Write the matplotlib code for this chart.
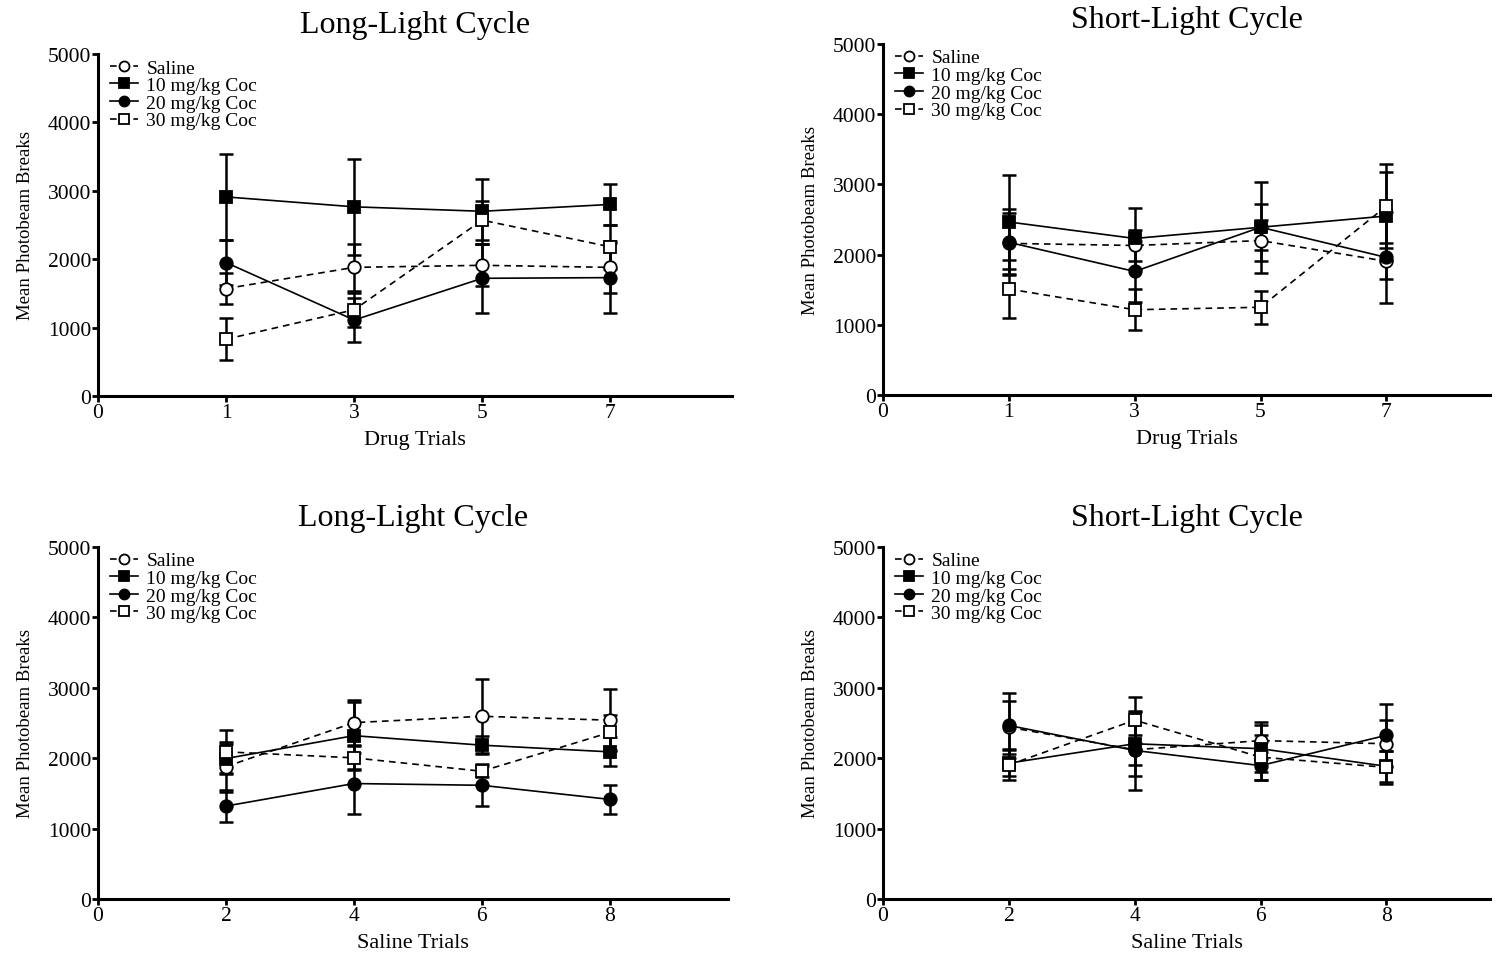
import matplotlib
matplotlib.use('Agg')
import matplotlib.pyplot as plt
import numpy as np

plt.rcParams['font.family'] = ['Liberation Serif', 'DejaVu Serif']

groups = ['Saline', '10 mg/kg Coc', '20 mg/kg Coc', '30 mg/kg Coc']
drug_ticks = ['0', '1', '3', '5', '7']
saline_ticks = ['0', '2', '4', '6', '8']

# rows: saline, 10, 20, 30 mg/kg
long_drug_mean = [[1570, 1880, 1910, 1880],
                  [2910, 2765, 2700, 2800],
                  [1950, 1110, 1720, 1730],
                  [830, 1260, 2570, 2180]]
long_drug_err = [[230, 345, 305, 380],
                 [625, 700, 475, 300],
                 [330, 320, 505, 510],
                 [305, 250, 285, 320]]

short_drug_mean = [[2160, 2130, 2200, 1905],
                   [2465, 2230, 2390, 2550],
                   [2175, 1760, 2390, 1960],
                   [1510, 1215, 1250, 2690]]
short_drug_err = [[435, 225, 295, 255],
                  [665, 440, 650, 620],
                  [470, 430, 325, 645],
                  [415, 290, 235, 595]]

long_sal_mean = [[1880, 2505, 2595, 2540],
                 [1995, 2320, 2185, 2090],
                 [1320, 1640, 1615, 1415],
                 [2090, 2005, 1815, 2365]]
long_sal_err = [[355, 320, 525, 440],
                [200, 485, 130, 205],
                [225, 435, 300, 210],
                [310, 165, 80, 255]]

short_sal_mean = [[2440, 2120, 2250, 2205],
                  [1930, 2205, 2135, 1885],
                  [2465, 2110, 1895, 2325],
                  [1905, 2540, 2015, 1870]]
short_sal_err = [[375, 215, 265, 335],
                 [190, 455, 335, 220],
                 [465, 560, 200, 440],
                 [220, 325, 320, 235]]

markers = ['o', 's', 'o', 's']
faces = ['white', 'black', 'black', 'white']
styles = [(0, (4, 3)), '-', '-', (0, (4, 3))]


def draw_panel(fig, rect, xmax, title, xlabel, ticks, means, errs, tpad=16):
    ax = fig.add_axes(rect)
    tick_pos = np.arange(len(ticks)) * 2
    pos = tick_pos[1:]
    for i in range(len(groups)):
        ax.errorbar(pos, means[i], yerr=errs[i], fmt='none', ecolor='black',
                    elinewidth=1.8, capsize=5, capthick=1.8, zorder=2)
        ax.plot(pos, means[i], color='black', lw=1.2, ls=styles[i],
                marker=markers[i], ms=9, mfc=faces[i], mec='black', mew=1.3,
                label=groups[i], zorder=3)
    ax.set_xlim(0, xmax)
    ax.set_ylim(0, 5000)
    ax.set_xticks(tick_pos)
    ax.set_xticklabels(ticks)
    ax.set_yticks(np.arange(0, 5001, 1000))
    for s in ['top', 'right']:
        ax.spines[s].set_visible(False)
    for s in ['left', 'bottom']:
        ax.spines[s].set_linewidth(2.2)
    ax.tick_params(direction='out', length=4, width=2, labelsize=15.5, pad=1)
    ax.set_title(title, fontsize=23, pad=tpad)
    ax.set_xlabel(xlabel, fontsize=16, labelpad=6)
    ax.set_ylabel('Mean Photobeam Breaks', fontsize=13.5, labelpad=10)
    ax.legend(loc='upper left', bbox_to_anchor=(-0.002, 1.025), frameon=False,
              fontsize=14, handlelength=1.4, handletextpad=0.45,
              labelspacing=0.0, markerscale=0.8, borderaxespad=0.3)
    return ax


def main():
    fig = plt.figure(figsize=(14.99, 9.54), dpi=100)
    draw_panel(fig, [0.0654, 0.5839, 0.4229, 0.3585], 9.9,
               'Long-Light Cycle', 'Drug Trials', drug_ticks,
               long_drug_mean, long_drug_err)
    draw_panel(fig, [0.5891, 0.5849, 0.405, 0.3679], 9.65,
               'Short-Light Cycle', 'Drug Trials', drug_ticks,
               short_drug_mean, short_drug_err, tpad=12)
    draw_panel(fig, [0.0654, 0.0566, 0.4203, 0.369], 9.85,
               'Long-Light Cycle', 'Saline Trials', saline_ticks,
               long_sal_mean, long_sal_err)
    draw_panel(fig, [0.5891, 0.0566, 0.405, 0.369], 9.65,
               'Short-Light Cycle', 'Saline Trials', saline_ticks,
               short_sal_mean, short_sal_err)
    fig.savefig('out.png', dpi=100)


if __name__ == '__main__':
    main()
